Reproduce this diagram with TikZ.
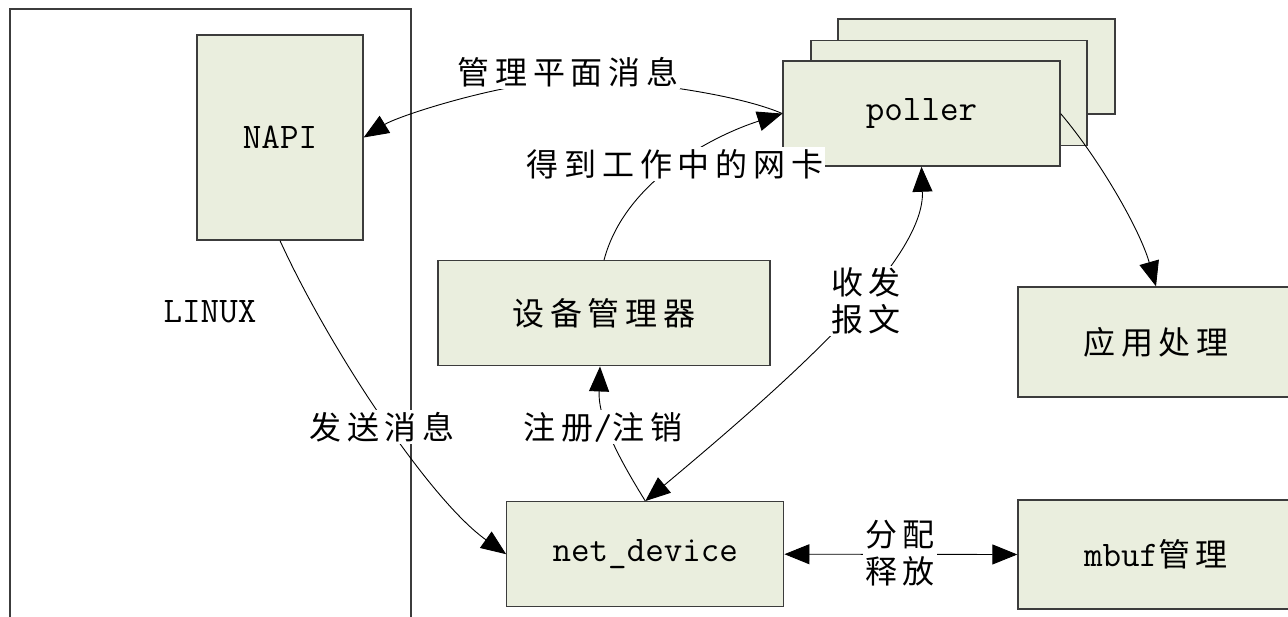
\documentclass[tikz,border=0pt]{standalone}
\usepackage{fontspec}
\usetikzlibrary{arrows.meta}
\newfontfamily\cjkfont[LetterSpace=18]{Noto Sans CJK SC}
\definecolor{boxfill}{RGB}{234,238,222}
\definecolor{boxline}{RGB}{60,60,60}
\newcommand{\cn}{\cjkfont\fontsize{32}{37}\selectfont}
\newcommand{\lt}{\ttfamily\fontsize{36}{40}\selectfont}
\begin{document}
\begin{tikzpicture}[x=1pt,y=-1pt,
  box/.style={draw=boxline, line width=1.3pt, fill=boxfill, inner sep=0pt},
  cnt/.style={font=\cn},
  lat/.style={font=\lt},
  lbl/.style={fill=white, inner sep=2pt, align=center, font=\cn},
  tip/.tip={Triangle[length=25pt,width=20pt]},
  conn/.style={line width=0.9pt, -tip},
  conn2/.style={line width=0.9pt, tip-tip}]
\clip (0,0) rectangle (1288,617);

% LINUX frame (runs off the bottom edge)
\draw[boxline, line width=1.3pt] (10,630) -- (10,9) -- (411,9) -- (411,630);
\node[lat] (linuxlbl) at (210,312) {LINUX};

% boxes
\node[box, minimum width=166pt, minimum height=205pt, font=\lt] (napi) at (280,137.5) {NAPI};
\node[box, minimum width=277pt, minimum height=95pt] (pollerC) at (976.5,66.5) {};
\node[box, minimum width=276pt, minimum height=105pt] (pollerB) at (949,92.7) {};
\node[box, minimum width=277pt, minimum height=105pt, font=\lt] (poller) at (921.5,113.6) {poller};
\node[box, minimum width=332pt, minimum height=105pt, font=\cn] (devmgr) at (604,313.3) {设备管理器};
\node[box, minimum width=276pt, minimum height=110pt, font=\cn] (app) at (1156,342) {应用处理};
\node[box, minimum width=277pt, minimum height=105pt, font=\lt] (netdev) at (645.3,554.2) {net\_device};
\node[box, minimum width=276pt, minimum height=109pt] (mbuf) at (1156,554.5) {{\lt mbuf}{\cn 管理}};

% connectors
\draw[conn] (poller.west) .. controls (740,95) and (640,80) .. (575,80)
  .. controls (510,80) and (400,115) .. (napi.east);
\draw[conn] (devmgr.north) .. controls (625,180) and (715,135) .. (poller.west);
\draw[conn2] (netdev.north) .. controls (790,380) and (925,260) .. (poller.south);
\draw[conn] (netdev.north) .. controls (620,460) and (598,420) .. ([xshift=-4pt]devmgr.south);
\draw[conn] (napi.south) .. controls (330,350) and (430,500) .. (netdev.west);
\draw[conn] (poller.east) .. controls (1100,160) and (1140,230) .. (app.north);
\draw[conn2] (netdev.east) -- (mbuf.west);

% connector labels
\node[lbl] (lblmgmt) at (568,72) {管理平面消息};
\node[lbl] (lblget) at (675,164) {得到工作中的网卡};
\node[lbl] (lblrxtx) at (866,301) {收发\\报文};
\node[lbl] (lblreg) at (603,427) {注册{\lt /}注销};
\node[lbl] (lblsend) at (382,427) {发送消息};
\node[lbl] (lblalloc) at (900,553) {分配\\释放};
\end{tikzpicture}
\end{document}
